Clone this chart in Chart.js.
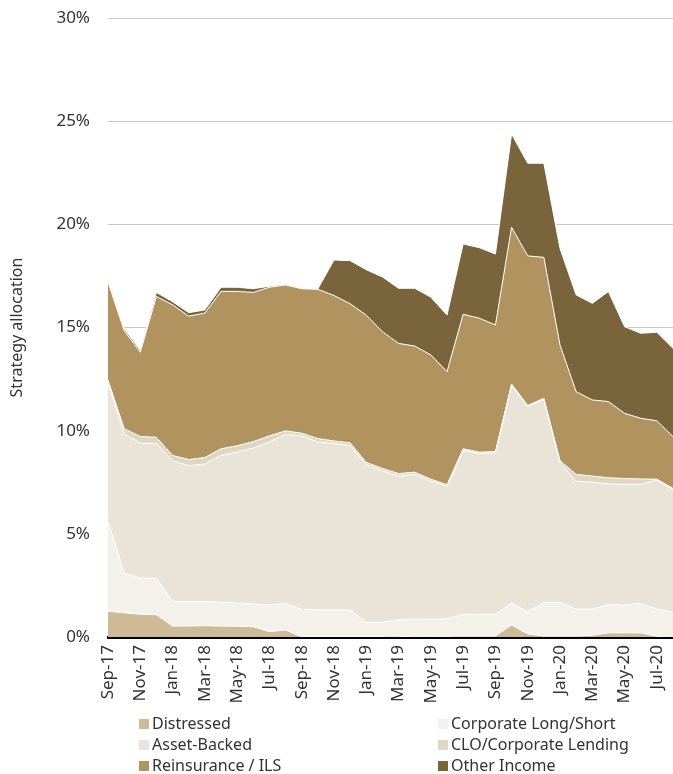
<!DOCTYPE html>
<html>
<head>
<meta charset="utf-8">
<script src="https://cdn.jsdelivr.net/npm/chart.js@4/dist/chart.umd.min.js"></script>
<style>
  html, body { margin: 0; padding: 0; background: #fff; }
  #wrap { position: relative; width: 673px; height: 774px; }
  #legend { position: absolute; left: 0; top: 713px; width: 673px; font-family: 'Noto Sans', sans-serif; font-size: 16px; color: #333; }
  .item { position: absolute; white-space: nowrap; line-height: 21px; }
  .item i { display: inline-block; width: 10px; height: 10px; margin-right: 3px; vertical-align: 0px; }
</style>
</head>
<body>
<div id="wrap">
  <canvas id="chart" width="673" height="774"></canvas>
  <div id="legend"></div>
</div>
<script>
// monthly allocation, % of portfolio
const months = ['Sep-17','Oct-17','Nov-17','Dec-17','Jan-18','Feb-18','Mar-18','Apr-18','May-18','Jun-18','Jul-18','Aug-18',
                'Sep-18','Oct-18','Nov-18','Dec-18','Jan-19','Feb-19','Mar-19','Apr-19','May-19','Jun-19','Jul-19','Aug-19',
                'Sep-19','Oct-19','Nov-19','Dec-19','Jan-20','Feb-20','Mar-20','Apr-20','May-20','Jun-20','Jul-20','Aug-20'];

const distressed    = [1.25,1.17,1.1,1.08,0.53,0.53,0.55,0.53,0.52,0.5,0.26,0.34,0,0,0,0,0,0,0.02,0.03,0.03,0.03,0.05,0.05,0.05,0.58,0.15,0.05,0.05,0.05,0.08,0.2,0.2,0.2,0.03,0];
const corpLongShort = [4.35,1.93,1.75,1.77,1.18,1.18,1.16,1.15,1.13,1.1,1.29,1.29,1.33,1.31,1.31,1.31,0.71,0.71,0.82,0.83,0.83,0.85,1.05,1.05,1.05,1.05,1.08,1.63,1.63,1.31,1.28,1.37,1.35,1.43,1.33,1.2];
const assetBacked   = [6.7,6.75,6.55,6.53,6.84,6.59,6.67,7.12,7.32,7.55,7.9,8.19,8.42,8.14,8.07,7.96,7.64,7.34,6.96,7.02,6.69,6.42,7.95,7.78,7.82,10.58,9.94,9.84,6.77,6.19,6.14,5.85,5.85,5.77,6.24,5.95];
const cloLending    = [0.15,0.25,0.32,0.3,0.25,0.3,0.32,0.32,0.3,0.32,0.3,0.17,0.13,0.17,0.12,0.14,0.11,0.12,0.12,0.11,0.1,0.08,0.07,0.08,0.07,0.05,0.05,0.05,0.1,0.33,0.3,0.3,0.28,0.26,0.05,0.05];
const reinsurance   = [4.75,4.75,4.08,6.82,7.3,6.95,7.0,7.63,7.48,7.23,7.2,7.07,7.0,7.23,7.05,6.74,7.14,6.63,6.31,6.11,6.02,5.48,6.52,6.49,6.13,7.6,7.25,6.83,5.6,4.01,3.69,3.69,3.16,2.94,2.83,2.51];
const otherIncome   = [0.1,0.1,0.1,0.2,0.15,0.17,0.15,0.2,0.2,0.18,0.05,0.04,0.02,0.02,1.72,2.09,2.2,2.65,2.67,2.8,2.8,2.74,3.41,3.42,3.44,4.52,4.49,4.56,4.68,4.69,4.68,5.33,4.2,4.12,4.29,4.28];

const seriesNames  = ['Distressed', 'Corporate Long/Short', 'Asset-Backed', 'CLO/Corporate Lending', 'Reinsurance / ILS', 'Other Income'];
const seriesData   = [distressed, corpLongShort, assetBacked, cloLending, reinsurance, otherIncome];
const seriesColors = ['#cdba96', '#f4f1eb', '#eae3d8', '#e0d6c4', '#b1935f', '#79643c'];

const yTicks = [0, 5, 10, 15, 20, 25, 30];

const FONT = "'Noto Sans', sans-serif";
const TXT = '#333';

const datasets = seriesNames.map((name, i) => ({
  label: name,
  data: seriesData[i],
  backgroundColor: seriesColors[i],
  borderColor: '#fff',
  borderWidth: 1,
  pointRadius: 0,
  tension: 0,
  fill: i === 0 ? 'origin' : '-1'
}));

new Chart(document.getElementById('chart'), {
  type: 'line',
  data: { labels: months, datasets: datasets },
  options: {
    responsive: false,
    devicePixelRatio: 1,
    animation: false,
    layout: { padding: { top: 18, right: 0, bottom: 67, left: 0 } },
    plugins: { legend: { display: false }, tooltip: { enabled: false } },
    scales: {
      x: {
        offset: false,
        grid: { display: false, drawTicks: false },
        border: { display: true, color: '#000', width: 3 },
        afterFit: s => { s.height = 70; s.paddingLeft = 0; s.paddingRight = 0; },
        ticks: {
          autoSkip: false, maxRotation: 90, minRotation: 90, padding: 8,
          color: TXT, font: { family: FONT, size: 17 },
          callback: (v, i) => i % 2 === 0 ? months[i] : null
        }
      },
      y: {
        stacked: true,
        min: yTicks[0], max: yTicks[yTicks.length - 1],
        afterFit: s => { s.width = 108; s.paddingTop = 0; s.paddingBottom = 0; },
        afterBuildTicks: s => { s.ticks = yTicks.map(v => ({ value: v })); },
        grid: { color: '#c8c8c8', lineWidth: 1, drawTicks: false },
        border: { display: false },
        ticks: { padding: 18, color: TXT, font: { family: FONT, size: 17 }, callback: v => v + '%' },
        title: { display: true, text: 'Strategy allocation', color: TXT, font: { family: FONT, size: 16 }, padding: { top: 8, bottom: 0 } }
      }
    }
  }
});

// legend in two columns, filled row by row
const legend = document.getElementById('legend');
seriesNames.forEach((name, i) => {
  const el = document.createElement('div');
  el.className = 'item';
  el.style.left = (i % 2 === 0 ? 139 : 438) + 'px';
  el.style.top = (Math.floor(i / 2) * 21) + 'px';
  el.innerHTML = '<i style="background:' + seriesColors[i] + '"></i>' + name;
  legend.appendChild(el);
});
</script>
</body>
</html>
